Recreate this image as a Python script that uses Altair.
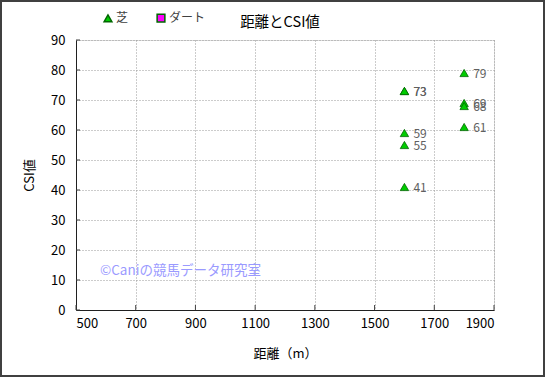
import altair as alt
import pandas as pd

distance = [1600, 1600, 1600, 1600, 1600, 1800, 1800, 1800, 1800]
csi = [73, 73, 59, 55, 41, 79, 69, 68, 61]
surface = ["芝"] * 9
x_ticks = [500, 700, 900, 1100, 1300, 1500, 1700, 1900]
y_ticks = [0, 10, 20, 30, 40, 50, 60, 70, 80, 90]

df = pd.DataFrame({"distance": distance, "csi": csi, "surface": surface})

FONT = "Noto Sans CJK JP"
XS = alt.Scale(domain=[500, 1900], nice=False)
YS = alt.Scale(domain=[0, 90], nice=False)

x_axis = alt.Axis(values=x_ticks, title="距離（m）", grid=True, format="d",
                  gridColor="#999999", gridDash=[1, 2], ticks=False,
                  domainColor="#202020", labelOverlap=False,
                  labelColor="#000000", labelFontSize=13, labelFont=FONT,
                  titleFont=FONT, titleFontSize=13, titleFontWeight="normal",
                  titleColor="#000000", labelPadding=7, titlePadding=17)
y_axis = alt.Axis(values=y_ticks, title="CSI値", grid=True, format="d",
                  gridColor="#999999", gridDash=[1, 2], ticks=False,
                  domainColor="#202020", labelOverlap=False,
                  labelColor="#000000", labelFontSize=13, labelFont=FONT,
                  titleFont=FONT, titleFontSize=13, titleFontWeight="normal",
                  titleColor="#000000", labelPadding=11, titlePadding=14)

x_enc = alt.X("distance:Q", scale=XS, axis=x_axis)
y_enc = alt.Y("csi:Q", scale=YS, axis=y_axis)

leg = alt.Legend(orient="none", legendX=26, legendY=-28,
                 direction="horizontal", title=None,
                 labelFont=FONT, labelFontSize=12,
                 labelColor="#404040", symbolSize=60,
                 columnPadding=25, labelOffset=2)

points = alt.Chart(df).mark_point(filled=True, size=70, stroke="#006600",
                                  strokeWidth=0.8, opacity=1).encode(
    x=x_enc, y=y_enc,
    shape=alt.Shape("surface:N", scale=alt.Scale(domain=["芝", "ダート"],
                                                 range=["triangle-up", "square"]),
                    legend=leg),
    color=alt.Color("surface:N", scale=alt.Scale(domain=["芝", "ダート"],
                                                 range=["#00cc00", "#ff00ff"]),
                    legend=leg),
)

labels = alt.Chart(df).mark_text(align="left", baseline="middle", dx=9, dy=1,
                                 font=FONT, fontSize=12, color="#606060").encode(
    x=x_enc, y=y_enc, text="csi:Q")

xt = alt.Chart(pd.DataFrame({"distance": x_ticks})).mark_rule(color="#404040").encode(
    x=x_enc, y=alt.value(265), y2=alt.value(270))
yt = alt.Chart(pd.DataFrame({"csi": y_ticks})).mark_rule(color="#404040").encode(
    y=y_enc, x=alt.value(0), x2=alt.value(4))

watermark = alt.Chart(pd.DataFrame({"t": ["©Caniの競馬データ研究室"]})).mark_text(
    align="left", baseline="middle", font=FONT, fontSize=13.5, color="#9a9aff").encode(
    x=alt.value(24), y=alt.value(231), text="t:N")

title = alt.Chart(pd.DataFrame({"t": ["距離とCSI値"]})).mark_text(
    align="center", baseline="middle", font=FONT, fontSize=14.5, color="#000000").encode(
    x=alt.value(204), y=alt.value(-17), text="t:N")

frame = alt.Chart(pd.DataFrame({"a": [0]})).mark_rect(
    fill=None, stroke="#404040", strokeWidth=2).encode(
    x=alt.value(-75), x2=alt.value(468), y=alt.value(-39), y2=alt.value(336))

chart = alt.layer(points, labels, xt, yt, watermark, title, frame).properties(
    width=418, height=270,
    autosize=alt.AutoSizeParams(type="none"),
    padding={"left": 76, "top": 40, "right": 51, "bottom": 67},
).configure_view(stroke="#707070", strokeWidth=1.5).configure(background="white")

chart.save("out.html", embed_options={"renderer": "svg", "actions": False})
